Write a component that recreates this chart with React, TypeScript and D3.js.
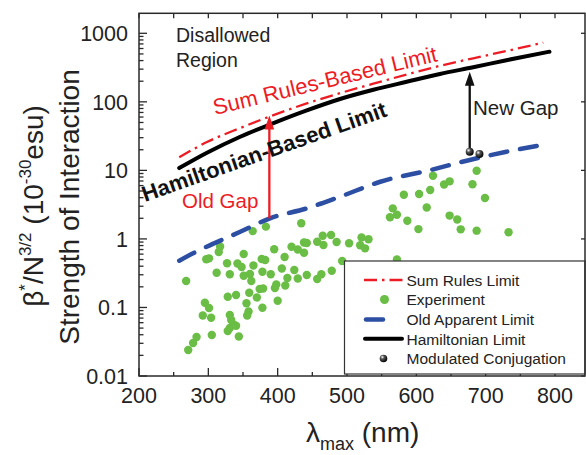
import React from 'react';
import * as d3 from 'd3';

// ---------- data ----------
const xTicks = [200, 300, 400, 500, 600, 700, 800];
const xMinorTicks = [250, 350, 450, 550, 650, 750];
const yTicks = [0.01, 0.1, 1, 10, 100, 1000];
const yTickLabels = ['0.01', '0.1', '1', '10', '100', '1000'];

const expLambda = [268, 271, 278, 283, 292, 295, 301, 304, 305, 297, 301, 312, 315, 317, 327, 328, 328, 331, 331, 331,
  333, 336, 340, 340, 342, 348, 344, 351, 351, 360, 362, 355, 358, 356, 359, 364, 365, 370, 374, 378,
  378, 377, 382, 379, 383, 390, 395, 396, 398, 400, 406, 410, 411, 414, 420, 424, 429, 429, 434, 438,
  442, 438, 442, 457, 457, 463, 465, 466, 477, 478, 485, 493, 503, 519, 521, 526, 531, 562, 566, 572,
  572, 582, 587, 603, 604, 615, 620, 624, 640, 648, 648, 659, 664, 681, 687, 687, 699, 733];
const expBeta = [0.243, 0.0239, 0.0303, 0.037, 0.0763, 0.117, 0.098, 0.0709, 0.0396, 0.504, 0.521, 0.321, 0.644, 0.775, 0.441, 0.143, 0.0453, 0.0501, 0.305, 0.0776,
  0.0656, 0.0564, 0.0542, 0.152, 0.438, 0.389, 0.0377, 0.602, 0.29, 0.308, 0.243, 0.115, 0.0873, 0.0763, 0.164, 1.3, 0.409, 0.14, 0.186, 0.332,
  0.0991, 0.509, 0.492, 0.189, 1.51, 0.305, 0.708, 0.192, 0.216, 0.125, 0.37, 0.544, 0.209, 0.269, 0.769, 0.352, 0.264, 0.7, 1.69, 0.886,
  0.871, 0.629, 0.297, 0.91, 0.26, 0.305, 1.11, 0.815, 1.14, 0.344, 0.901, 0.476, 0.863, 0.807, 1.05, 0.729, 0.987, 2.07, 2.79, 2.25,
  0.5, 4.42, 1.84, 1.39, 4.52, 2.87, 5.17, 8.36, 6.22, 6.92, 2.19, 1.92, 1.38, 6.26, 9.89, 1.32, 3.95, 1.25];

const hamLambda = [258, 298, 346, 394, 442, 490, 538, 586, 634, 682, 730, 792];
const hamBeta = [10.8, 18.1, 31.0, 49, 75, 110, 150, 196, 255, 320, 405, 539];

const sumLambda = [258, 298, 346, 394, 442, 490, 538, 586, 634, 682, 730, 783];
const sumBeta = [15.5, 25.9, 41.5, 64, 95, 134, 184, 250, 335, 432, 551, 729];

const oldLambda = [258, 278, 346, 389, 442, 490, 548, 620, 677, 730, 790];
const oldBeta = [0.481, 0.617, 1.27, 2.0, 2.79, 4.13, 6.83, 10.1, 14.2, 18.7, 24.3];

const modLambda = [677, 691];
const modBeta = [18.7, 17.3];

const oldGapLambda = 388;
const oldGapFrom = 2.0;
const oldGapTo = 63;
const newGapLambda = 677;
const newGapFrom = 19.5;
const newGapTo = 275;

// ---------- styles ----------
const FONT = 'Liberation Sans, Arial, Helvetica, sans-serif';
const GREEN = '#6abd45';
const BLUE = '#2c4fa3';
const RED = '#ed1c24';
const AXIS = '#2a2a2a';

export default function App() {
  const W = 586, H = 455;
  const x = d3.scaleLinear().domain([200, 800]).range([139, 555]);
  const y = d3.scaleLog().domain([0.01, 1000]).range([376, 33.3]);
  const left = x(200), right = 585, top = 13.3, bottom = y(0.01);

  const line = d3.line<[number, number]>()
    .x(d => x(d[0]))
    .y(d => y(d[1]))
    .curve(d3.curveMonotoneX);
  const zip = (a: number[], b: number[]) => a.map((v, i) => [v, b[i]] as [number, number]);

  const yMinor: number[] = [];
  [0.01, 0.1, 1, 10, 100].forEach(d => { for (let k = 2; k <= 9; k++) yMinor.push(d * k); });

  const arrow = (lx: number, from: number, to: number, color: string) => {
    const px = x(lx);
    const y0 = y(from), y1 = y(to);
    const hl = 14, hw = 4.8;
    return (
      <g>
        <line x1={px} x2={px} y1={y0} y2={y1 + hl - 2} stroke={color} strokeWidth={2.3} />
        <path d={`M${px},${y1} L${px - hw},${y1 + hl} L${px + hw},${y1 + hl} Z`} fill={color} />
      </g>
    );
  };

  const legX = 344.5, legY = 261, legW = right - 344.5, legH = 113;
  const legRows = [280, 299.5, 319.5, 338.8, 358.5];
  const legTextX = 406.5;

  return (
    <svg width={W} height={H} style={{ position: 'absolute', left: 0, top: 0, background: '#fff' }} fontFamily={FONT}>
      <defs>
        <radialGradient id="sph" cx="35%" cy="32%" r="70%">
          <stop offset="0%" stopColor="#ffffff" />
          <stop offset="35%" stopColor="#555" />
          <stop offset="100%" stopColor="#000" />
        </radialGradient>
      </defs>
      <rect x={0} y={0} width={W} height={H} fill="#fff" />

      {/* scatter */}
      {expLambda.map((l, i) => (
        <circle key={i} cx={x(l)} cy={y(expBeta[i])} r={4.2} fill={GREEN} />
      ))}

      {/* curves */}
      <path d={line(zip(oldLambda, oldBeta)) || ''} fill="none" stroke={BLUE} strokeWidth={4.5}
        strokeDasharray="17 13" strokeLinecap="round" />
      <path d={line(zip(sumLambda, sumBeta)) || ''} fill="none" stroke={RED} strokeWidth={2.3}
        strokeDasharray="13 5 2.5 5" />
      <path d={line(zip(hamLambda, hamBeta)) || ''} fill="none" stroke="#000" strokeWidth={4} strokeLinecap="round" />

      {/* arrows */}
      {arrow(oldGapLambda, oldGapFrom, oldGapTo, RED)}
      {arrow(newGapLambda, newGapFrom, newGapTo, '#111')}

      {/* modulated conjugation */}
      {modLambda.map((l, i) => (
        <circle key={i} cx={x(l)} cy={y(modBeta[i])} r={4} fill="url(#sph)" />
      ))}

      {/* annotations */}
      <text x={176} y={41.5} fontSize={19.5} fill="#222">Disallowed</text>
      <text x={176} y={67} fontSize={19.5} fill="#222">Region</text>
      <text transform="translate(215,115) rotate(-13.6)" fontSize={22} fill={RED}>Sum Rules-Based Limit</text>
      <text transform="translate(145,202) rotate(-19.5)" fontSize={22} fontWeight="bold" fill="#111">Hamiltonian-Based Limit</text>
      <text x={182} y={208} fontSize={20.5} fill={RED}>Old Gap</text>
      <text x={473} y={115} fontSize={20.5} fill="#222">New Gap</text>

      {/* axes ticks */}
      <g stroke={AXIS} strokeWidth={1.3}>
        {xTicks.map(t => (
          <g key={'xt' + t}>
            <line x1={x(t)} x2={x(t)} y1={bottom} y2={bottom - 8} />
            <line x1={x(t)} x2={x(t)} y1={top} y2={top + 5} />
          </g>
        ))}
        {xMinorTicks.map(t => (
          <g key={'xm' + t}>
            <line x1={x(t)} x2={x(t)} y1={bottom} y2={bottom - 4} />
            <line x1={x(t)} x2={x(t)} y1={top} y2={top + 5} />
          </g>
        ))}
        {yTicks.map(t => (
          <g key={'yt' + t}>
            <line x1={left} x2={left + 8} y1={y(t)} y2={y(t)} />
            <line x1={right} x2={right - 4} y1={y(t)} y2={y(t)} />
          </g>
        ))}
        {yMinor.map(t => (
          <line key={'ym' + t} x1={left} x2={left + 4.5} y1={y(t)} y2={y(t)} />
        ))}
      </g>

      {/* legend */}
      <rect x={legX} y={legY} width={legW} height={legH} fill="#fff" stroke="#333" strokeWidth={1.2} />
      <line x1={364} x2={403} y1={legRows[0]} y2={legRows[0]} stroke={RED} strokeWidth={2.3} strokeDasharray="13 5 2.5 5" />
      <circle cx={384.5} cy={legRows[1]} r={4.5} fill={GREEN} />
      <line x1={366} x2={383} y1={legRows[2]} y2={legRows[2]} stroke={BLUE} strokeWidth={4.5} strokeLinecap="round" />
      <line x1={365} x2={402} y1={legRows[3]} y2={legRows[3]} stroke="#000" strokeWidth={4} strokeLinecap="round" />
      <circle cx={383.5} cy={legRows[4]} r={3.8} fill="url(#sph)" />
      {['Sum Rules Limit', 'Experiment', 'Old Apparent Limit', 'Hamiltonian Limit', 'Modulated Conjugation'].map((s, i) => (
        <text key={s} x={legTextX} y={legRows[i] + 5.8} fontSize={15.5} fill="#222">{s}</text>
      ))}

      {/* frame */}
      <rect x={left} y={top} width={right - left} height={bottom - top} fill="none" stroke={AXIS} strokeWidth={1.5} />

      {/* tick labels */}
      {xTicks.map(t => (
        <text key={'xl' + t} x={x(t)} y={403} fontSize={21.5} textAnchor="middle" fill="#222">{t}</text>
      ))}
      {yTicks.map((t, i) => (
        <text key={'yl' + t} x={128} y={y(t)} dy="0.36em" fontSize={21.5} textAnchor="end" fill="#222">{yTickLabels[i]}</text>
      ))}

      {/* axis titles */}
      <text x={306} y={442} fontSize={28} fill="#222">
        λ<tspan fontSize={18} dy={8}>max</tspan><tspan dy={-8}> (nm)</tspan>
      </text>
      <text transform="translate(43,206) rotate(-90)" fontSize={28} textAnchor="middle" fill="#222">
        β<tspan fontSize={17} dy={-12}>*</tspan><tspan dy={12}>/N</tspan><tspan fontSize={17} dy={-12}>3/2</tspan><tspan dy={12}> (10</tspan><tspan fontSize={17} dy={-12}>-30</tspan><tspan dy={12}>esu)</tspan>
      </text>
      <text transform="translate(79,207) rotate(-90)" fontSize={28} textAnchor="middle" fill="#222">Strength of Interaction</text>
    </svg>
  );
}
